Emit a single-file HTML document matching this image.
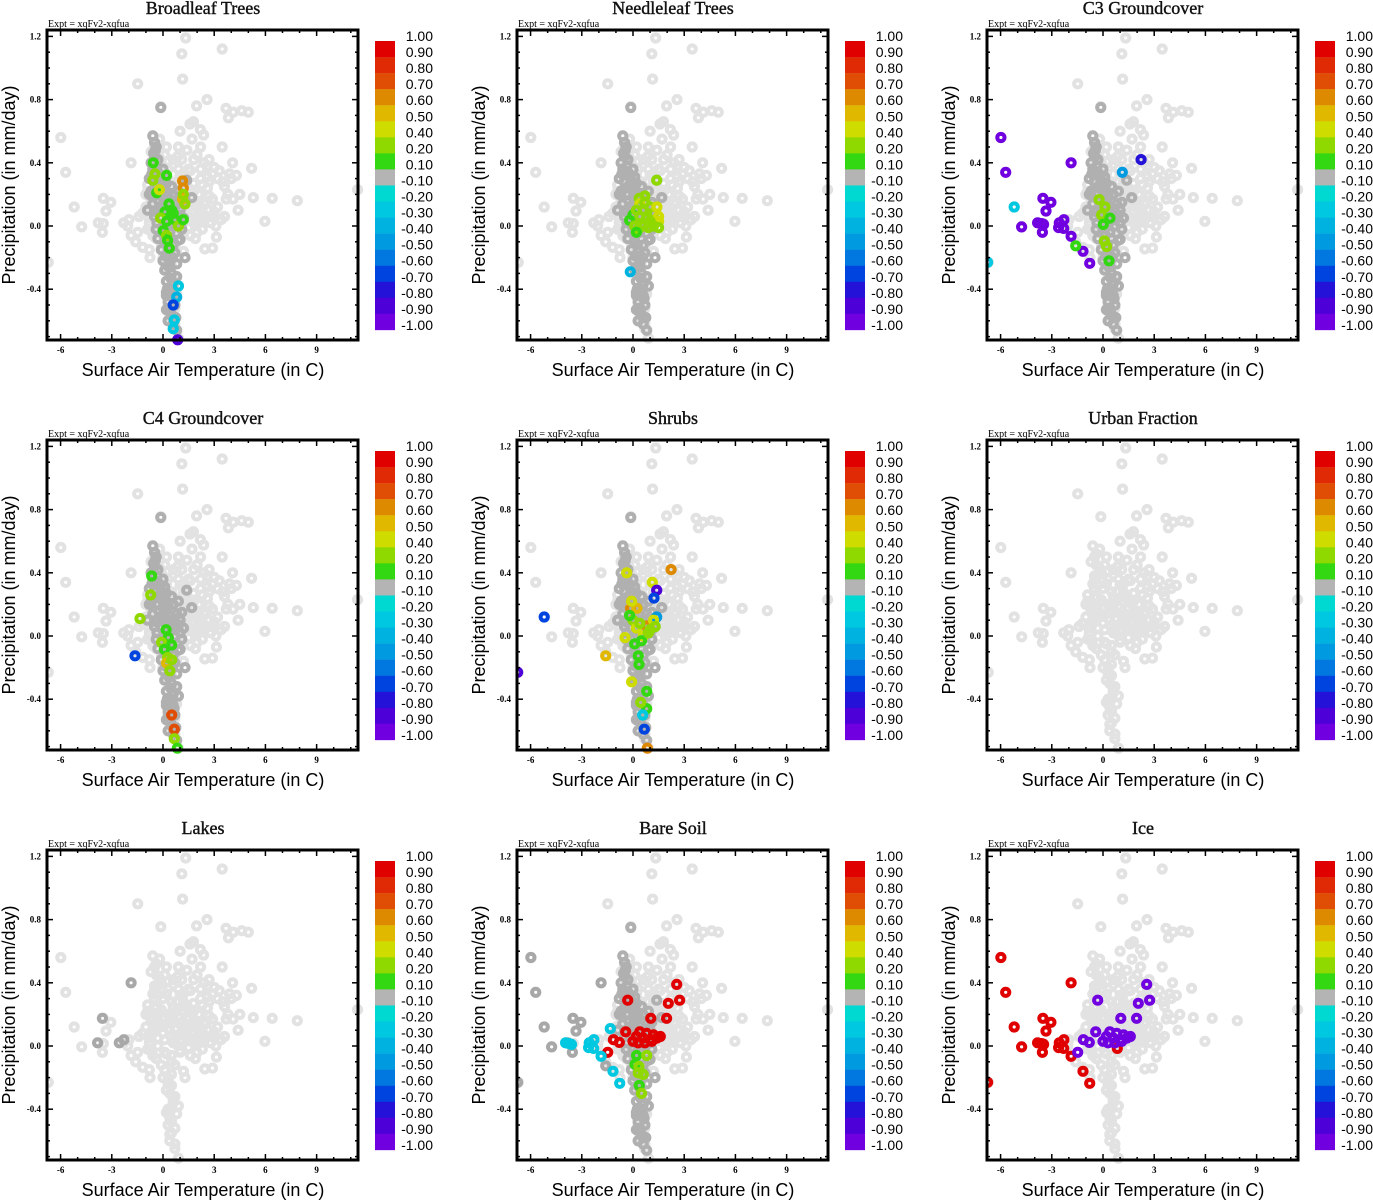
<!DOCTYPE html>
<html><head><meta charset="utf-8"><style>
html,body{margin:0;padding:0;background:#fff;}
svg{display:block;}
</style></head><body>
<svg id="chart" width="1373" height="1200" viewBox="0 0 1373 1200" xmlns="http://www.w3.org/2000/svg"></svg>
<script>
// ---- data ----
const panelTitles = ["Broadleaf Trees","Needleleaf Trees","C3 Groundcover","C4 Groundcover","Shrubs","Urban Fraction","Lakes","Bare Soil","Ice"];
const cbLabels = ["1.00","0.90","0.80","0.70","0.60","0.50","0.40","0.20","0.10","-0.10","-0.20","-0.30","-0.40","-0.50","-0.60","-0.70","-0.80","-0.90","-1.00"];
const cbColors = ["#e00000","#e02a06","#e04e06","#de8a00","#e0b800","#cedc00","#8fd800","#34d812","#b4b4b4","#00d8d2","#00c8e0","#00b2e0","#009ae0","#0078e0","#0044e0","#2412d8","#4e00d8","#7000e0"];
const cbLower = [0.9,0.8,0.7,0.6,0.5,0.4,0.2,0.1,-0.1,-0.2,-0.3,-0.4,-0.5,-0.6,-0.7,-0.8,-0.9,-1.0];
const xTicks = [-6,-3,0,3,6,9];
const yTicks = [1.2,0.8,0.4,0.0,-0.4];
const yTickLabels = ["1.2","0.8","0.4","0.0","-0.4"];

// light grey background cloud (temperature, precipitation)
const bgT = [1.33,3.47,1.1,1.15,-1.48,2.58,1.97,-0.13,3.69,4.61,5.0,4.12,3.83,1.78,1.58,1.0,2.19,2.38,-5.99,3.47,-5.7,0.86,-1.87,4.08,5.19,4.3,4.0,11.4,-3.5,-3.06,-5.2,5.29,6.4,7.87,3.7,4.1,-3.34,-3.79,-3.5,-2.0,-2.3,-2.07,-4.76,-3.55,5.97,-1.87,-1.48,-1.6,-1.19,-0.8,-0.76,2.45,2.9,3.13,1.2,-6.72,1.29,
 2.2,2.0,1.8,2.4,2.6,3.0,3.3,1.5,2.9,3.2,3.5,2.7,3.9,3.6,3.8,4.5,1.2,0.9,0.6,0.2,-0.2,-0.4,
 -1.0,-0.8,-0.7,-0.5,-0.4,-0.3,-0.2,0.0,0.0,0.2,0.3,0.4,0.5,0.6,0.7,0.8,0.9,1.0,1.0,1.2,1.3,1.4,1.5,1.6,1.7,1.8,1.9,2.0,2.1,2.2,2.3,2.4,2.5,2.6,2.7,2.8,2.9,3.0,3.1,3.2,3.4,1.1,1.6,0.5,-0.6,-0.9,-1.2,-0.3,0.1,0.7,1.9,2.2,1.4,2.7,-0.6,0.3,0.9,1.7,
 0.3,0.5,0.4,0.7,0.6,0.3,0.8,0.4,0.3,0.5,0.4,0.7,0.7,0.9,0.2,0.9,-0.1,0.0,-0.6,-0.5,-0.4,-1.4,-1.0,-0.9,3.6,4.4,2.0,1.1,
 -0.8,-0.6,-0.4,-0.2,0.1,0.3,0.6,0.8,1.1,1.3,1.5,1.8,2.0,2.3,2.5,2.8,3.0,-0.7,-0.3,0.0,0.4,0.7,1.0,1.4,1.7,2.1,2.4,2.7,-0.5,-0.1,0.2,0.6,0.9,1.2,1.6,1.9,2.2,2.6,-0.9,-0.5,-0.1,0.3,0.8,1.3,1.8,2.3,-0.4,0.1,0.5,1.0,1.5,2.0,0.1,0.5,0.3,0.6,0.2,0.5,0.4,0.7,-0.7,-0.5,-0.3,-0.5,-0.7,-0.2,1.0,1.3,1.7,2.0,2.4];
const bgP = [1.19,1.12,1.09,0.93,0.90,0.80,0.76,0.755,0.745,0.73,0.72,0.72,0.685,0.66,0.645,0.60,0.61,0.576,0.56,0.50,0.34,0.44,0.40,0.40,0.365,0.32,0.30,0.23,0.175,0.15,0.12,0.18,0.175,0.16,0.17,0.17,0.095,0.02,0.015,0.04,0.02,0.0,-0.005,-0.04,0.03,-0.06,-0.04,-0.10,-0.135,-0.15,-0.20,-0.145,-0.14,-0.07,-0.16,-0.23,-0.20,
 0.50,0.45,0.42,0.40,0.38,0.37,0.35,0.36,0.33,0.30,0.28,0.28,0.33,0.25,0.20,0.20,0.33,0.36,0.42,0.50,0.55,0.52,
 0.12,0.05,0.18,0.10,0.25,0.0,0.15,0.30,0.08,-0.05,0.20,0.10,0.28,0.02,0.15,0.22,0.07,0.32,-0.03,0.12,0.25,0.04,0.18,-0.06,0.09,0.27,0.13,0.02,0.20,0.08,-0.02,0.15,0.05,0.24,0.10,0.02,0.17,0.06,0.0,0.12,0.04,0.42,0.35,-0.10,-0.06,0.26,0.08,0.38,0.45,-0.12,-0.08,0.30,0.48,0.42,0.33,0.36,0.50,0.55,
 -0.20,-0.25,-0.30,-0.32,-0.36,-0.40,-0.43,-0.45,-0.50,-0.55,-0.60,-0.62,-0.65,-0.38,-0.28,-0.71,-0.12,-0.20,0.57,0.50,0.45,0.06,0.20,-0.02,0.06,0.10,0.12,0.22,
 0.02,0.08,0.14,0.21,0.04,0.11,0.17,0.01,0.09,0.14,0.06,0.02,0.11,0.05,0.14,0.06,0.09,-0.03,0.05,0.13,0.18,0.06,0.14,0.10,0.20,0.15,0.03,0.19,0.30,0.23,0.33,0.25,0.19,0.28,0.23,0.16,0.36,0.31,0.22,0.35,0.40,0.41,0.28,0.26,0.22,0.26,-0.08,-0.04,-0.06,-0.04,-0.01,-0.04,-0.15,-0.18,-0.24,-0.34,-0.42,-0.48,-0.56,-0.52,0.47,0.38,0.32,0.24,0.16,0.43,0.03,0.08,0.04,0.11,0.07];

// dark grey column (points with |corr|<0.1) shared by most panels
const coreT = [-0.6,-0.5,-0.45,-0.5,-0.3,-0.7,-0.6,-0.3,0.0,0.1,-0.8,-0.5,-0.2,0.2,0.5,-0.7,-0.3,0.0,0.3,0.6,0.9,-0.6,-0.2,0.1,0.4,0.8,1.1,-0.5,-0.1,0.2,0.5,0.9,1.2,-0.4,0.0,0.3,0.7,1.1,-0.3,0.1,0.5,0.9,-0.1,0.3,0.7,0.0,0.4,0.8,0.1,0.5,0.8,0.2,0.6,0.9,0.2,0.6,0.3,0.7,0.2,0.5,0.3,0.6,0.8,-0.13,1.29,1.0,1.39,1.68,-0.9,-0.8,0.2,0.4,0.6,0.0,0.3,
 -0.4,-0.55,-0.35,-0.65,-0.15,-0.45,0.05,-0.25,0.35,0.65,1.0,-0.35,0.15,0.7,1.0,0.1,0.4,0.6,0.25,0.45,0.15,0.55,0.35,0.45,0.25,0.55,0.4,0.65,0.75,-0.05,-0.4,0.0];
const coreP = [0.57,0.53,0.48,0.44,0.42,0.40,0.36,0.34,0.36,0.31,0.30,0.28,0.26,0.27,0.25,0.22,0.20,0.22,0.19,0.20,0.22,0.14,0.12,0.15,0.13,0.14,0.15,0.06,0.05,0.08,0.06,0.07,0.05,-0.02,-0.02,0.0,0.0,-0.02,-0.08,-0.10,-0.08,-0.09,-0.15,-0.16,-0.17,-0.22,-0.23,-0.24,-0.28,-0.30,-0.32,-0.35,-0.37,-0.38,-0.42,-0.44,-0.48,-0.50,-0.53,-0.56,-0.60,-0.62,-0.66,0.75,-0.20,-0.085,0.29,0.18,0.10,0.20,-0.44,-0.52,-0.58,0.18,0.03,
 0.50,0.46,0.38,0.33,0.32,0.24,0.25,0.16,0.10,0.11,0.10,0.02,0.02,0.04,0.02,-0.05,-0.04,-0.12,-0.12,-0.19,-0.19,-0.20,-0.26,-0.33,-0.40,-0.40,-0.52,-0.46,-0.58,0.28,0.09,0.12];
const useCore = [true,true,true,true,true,false,false,true,false];

// extra dark grey points per panel
const extraT = [[],[],[],[],[],[],[-1.87,-3.55,-3.83,-2.56,-2.29],[-5.98,-5.7,-5.2,-4.77,-3.52,-3.05,-3.34,-3.55,-1.87,-1.6,-6.76,-3.83,-2.56,-2.29],[]];
const extraP = [[],[],[],[],[],[],[0.40,0.175,0.02,0.02,0.04],[0.56,0.34,0.12,-0.006,0.175,0.15,0.095,-0.04,0.40,-0.125,-0.23,0.02,0.02,0.04],[]];

// coloured (correlation) points per panel
const colT = [
 [-0.57,-0.47,-0.6,-0.37,-0.21,0.21,1.15,1.19,1.15,1.19,1.29,0.35,0.12,0.51,-0.14,0.21,0.7,0.9,1.19,0.02,0.21,0.27,0.37,0.6,0.9,0.8,0.6,0.66,0.6,0.86],
 [1.39,0.37,0.7,0.4,-0.2,0.0,0.2,0.4,0.6,0.8,1.0,1.2,1.4,1.5,1.5,0.1,0.3,0.6,0.9,1.2,1.5,0.7,1.0,0.2,-0.16],
 [-5.98,-5.7,-3.52,-3.05,-3.34,-4.77,-3.83,-3.6,-3.48,-3.55,-2.56,-2.29,-2.6,-2.3,-1.87,-1.87,-1.17,-0.78,-5.2,-6.76,1.13,2.23,-1.6,-0.23,0.12,-0.08,0.41,0.02,0.08,0.21,0.35],
 [-1.64,-0.66,-0.72,-1.35,0.18,0.31,-0.08,0.08,0.51,0.27,0.21,0.51,0.4,0.51,0.66,0.66,0.84],
 [-5.2,-6.76,-0.37,1.13,2.23,1.39,1.23,-1.6,-0.47,-0.14,0.23,0.8,-0.08,0.31,0.35,-0.08,0.8,0.8,0.45,0.57,0.66,0.84,1.39,0.0,0.2,0.4,0.6,1.0,1.2,0.1,0.5,0.9,1.3,-0.2],
 [],
 [],
 [-0.31,2.07,2.56,2.73,1.04,1.97,-0.43,-1.15,-0.8,-1.48,0.0,0.2,0.4,0.6,0.8,1.0,1.2,1.4,1.6,0.3,0.7,1.1,-3.95,-3.75,-3.6,-2.56,-2.29,-2.6,-2.3,-1.87,-1.33,-1.17,-0.78,0.21,0.8,0.12,0.35,0.31,0.6,0.37,0.5],
 [-5.98,-5.7,-3.52,-3.05,-3.34,-4.77,-3.83,-3.6,-3.48,-3.55,-2.56,-2.29,-2.6,-2.3,-1.87,-1.87,-1.17,-0.78,-5.2,-6.76,0.84,-0.31,2.07,2.56,2.73,1.04,1.97,-0.43,-1.15,-1.48,-0.8,0.0,0.2,0.4,0.6,0.8,1.0,1.2,1.4,1.6,0.3,0.7,1.1]
];
const colP = [
 [0.40,0.33,0.29,0.21,0.23,0.32,0.285,0.24,0.17,0.2,0.14,0.14,0.09,0.10,0.05,0.03,0.04,0.0,0.04,-0.03,-0.06,-0.09,-0.14,0.08,-0.38,-0.45,-0.5,-0.595,-0.65,-0.72],
 [0.29,0.175,0.19,0.14,0.036,0.07,0.1,0.06,0.1,0.05,0.12,0.08,0.12,0.06,0.03,0.0,-0.02,0.0,-0.01,0.0,-0.01,0.15,0.03,-0.04,-0.29],
 [0.56,0.34,0.175,0.15,0.095,-0.006,0.02,0.015,0.01,-0.04,0.02,0.04,-0.01,-0.015,-0.065,0.40,-0.16,-0.236,0.12,-0.23,0.34,0.42,-0.125,0.167,0.12,0.07,0.05,0.01,-0.095,-0.13,-0.22],
 [-0.125,0.38,0.26,0.11,0.04,-0.01,-0.04,-0.085,-0.057,-0.137,-0.17,-0.15,-0.22,-0.5,-0.59,-0.65,-0.71],
 [0.12,-0.23,0.40,0.34,0.42,0.29,0.24,-0.125,-0.01,0.175,0.175,0.063,0.22,-0.125,-0.18,-0.29,-0.35,-0.46,-0.42,-0.5,-0.59,-0.71,0.12,0.1,0.05,0.08,0.0,0.04,0.1,-0.05,-0.03,0.02,0.06,0.13],
 [],
 [],
 [0.29,0.27,0.39,0.29,0.175,0.175,0.09,0.04,0.023,-0.04,0.03,0.06,0.09,0.05,0.08,0.04,0.07,0.05,0.06,0.02,0.02,0.03,0.02,0.015,0.01,0.02,0.04,-0.01,-0.015,-0.065,0.11,-0.16,-0.236,-0.06,-0.06,-0.116,-0.13,-0.17,-0.18,-0.25,-0.3],
 [0.56,0.34,0.175,0.15,0.095,-0.006,0.02,0.015,0.01,-0.04,0.02,0.04,-0.01,-0.015,-0.065,0.40,-0.16,-0.236,0.12,-0.23,-0.015,0.29,0.27,0.39,0.29,0.175,0.175,0.09,0.04,-0.04,0.023,0.03,0.06,0.09,0.05,0.08,0.04,0.07,0.05,0.06,0.02,0.02,0.03]
];
const colV = [
 [0.15,0.3,0.3,0.15,0.45,0.15,0.65,0.65,0.55,0.3,0.3,0.15,0.15,0.15,0.3,0.15,0.15,0.3,0.15,0.15,0.3,0.15,0.15,0.15,-0.25,-0.35,-0.65,-0.3,-0.25,-0.85],
 [0.3,0.3,0.3,0.45,0.15,0.15,0.3,0.3,0.3,0.3,0.3,0.3,0.45,0.45,0.45,0.3,0.3,0.3,0.3,0.3,0.3,0.3,0.3,0.15,-0.35],
 [-0.95,-0.95,-0.95,-0.95,-0.95,-0.95,-0.95,-0.95,-0.95,-0.95,-0.95,-0.95,-0.95,-0.95,-0.95,-0.95,-0.95,-0.95,-0.25,-0.3,-0.45,-0.75,0.15,0.3,0.3,0.3,0.15,0.15,0.3,0.3,0.15],
 [-0.65,0.15,0.3,0.3,0.15,0.15,0.3,0.15,0.15,0.3,0.55,0.3,0.3,0.75,0.75,0.3,0.15],
 [-0.65,-0.85,0.45,0.45,0.65,-0.85,-0.65,0.55,0.45,0.65,0.55,0.65,0.45,0.15,0.15,0.45,0.15,0.15,0.3,-0.25,-0.65,0.65,-0.45,0.3,0.45,0.3,0.45,0.3,0.45,0.15,0.15,0.3,0.3,0.15],
 [],
 [],
 [0.95,0.95,0.95,0.95,0.95,0.95,0.95,0.95,0.95,0.95,0.95,0.95,0.95,0.95,0.95,0.95,0.95,0.95,0.95,0.95,0.95,0.95,-0.25,-0.25,-0.25,-0.25,-0.25,-0.25,-0.25,-0.25,-0.25,-0.25,-0.25,0.15,0.3,0.15,0.3,0.3,0.3,0.15,0.3],
 [0.95,0.95,0.95,0.95,0.95,0.95,0.95,0.95,0.95,0.95,0.95,0.95,0.95,0.95,0.95,0.95,0.95,0.95,0.95,0.95,0.95,-0.95,-0.95,-0.95,-0.95,-0.95,-0.95,-0.95,-0.95,-0.95,-0.95,-0.95,-0.95,-0.95,-0.95,-0.95,-0.95,-0.95,-0.95,-0.95,-0.95,-0.95,-0.95]
];

// ---- drawing ----
const NS = "http://www.w3.org/2000/svg";
const svg = document.getElementById("chart");
const colOff = [0,470,940], rowOff = [0,410,820];
const FX0 = 47, FX1 = 358, FY0 = 30, FY1 = 340;
function sx(t){ return 163 + 17.07*t; }
function sy(p){ return 226 - 158*p; }
function colorFor(v){
  for (let i=0;i<cbLower.length;i++){ if (v >= cbLower[i]) return cbColors[i]; }
  return cbColors[cbColors.length-1];
}
function mk(tag, attrs, parent){
  const e = document.createElementNS(NS, tag);
  for (const k in attrs) e.setAttribute(k, attrs[k]);
  parent.appendChild(e);
  return e;
}
function ring(g, t, p, col){
  return mk("circle", {cx:sx(t).toFixed(1), cy:sy(p).toFixed(1), r:3.6, fill:"none", stroke:col, "stroke-width":4.0}, g);
}

for (let k=0;k<9;k++){
  const ox = colOff[k%3], oy = rowOff[Math.floor(k/3)];
  const g = mk("g", {transform:`translate(${ox},${oy})`}, svg);
  
  

  const title = mk("text", {x:203, y:14, "text-anchor":"middle", "font-family":"Liberation Serif, serif", "font-size":18, "stroke":"#111", "stroke-width":0.4, fill:"#111"}, g);
  title.textContent = panelTitles[k];
  
  

  const ex = mk("text", {x:48, y:27, "font-family":"Liberation Serif, serif", "font-size":10, fill:"#000"}, g);
  ex.textContent = "Expt = xqFv2-xqfua";
  
  

  const clip = mk("clipPath", {id:"clip"+k}, g);
  mk("rect", {x:FX0, y:FY0-6, width:FX1-FX0+6, height:FY1-FY0+12}, clip);
  const pts = mk("g", {"clip-path":`url(#clip${k})`}, g);
  
  

  for (let i=0;i<bgT.length;i++){
    const c = ring(pts, bgT[i], bgP[i], "#e2e2e2");
    
    
  }
  if (useCore[k]){
    for (let i=0;i<coreT.length;i++){
      const c = ring(pts, coreT[i], coreP[i], "#b0b0b0");
      
      
    }
  }
  for (let i=0;i<extraT[k].length;i++){
    const c = ring(pts, extraT[k][i], extraP[k][i], "#a8a8a8");
    
    
  }
  for (let i=0;i<colT[k].length;i++){
    const c = ring(pts, colT[k][i], colP[k][i], colorFor(colV[k][i]));
    
    
  }

  const fr = mk("rect", {x:FX0, y:FY0, width:FX1-FX0, height:FY1-FY0, fill:"none", stroke:"#000", "stroke-width":3}, g);
  
  

  const tk = mk("g", {stroke:"#000", "stroke-width":1.5}, g);
  
  
  for (let t=-6;t<=11;t++){
    const x = sx(t), L = (t%3===0)?6:3;
    mk("line", {x1:x, y1:FY1, x2:x, y2:FY1-L}, tk);
    mk("line", {x1:x, y1:FY0, x2:x, y2:FY0+L}, tk);
  }
  for (let i=-7;i<=12;i++){
    const p = i/10, y = sy(p), L = (i%4===0)?6:3;
    mk("line", {x1:FX0, y1:y, x2:FX0+L, y2:y}, tk);
    mk("line", {x1:FX1, y1:y, x2:FX1-L, y2:y}, tk);
  }
  for (let i=0;i<xTicks.length;i++){
    const tl = mk("text", {x:sx(xTicks[i]), y:353, "text-anchor":"middle", "font-family":"Liberation Serif, serif", "font-size":9, "font-weight":"bold"}, g);
    tl.textContent = String(xTicks[i]);
    
    
  }
  for (let i=0;i<yTicks.length;i++){
    const tl = mk("text", {x:41, y:sy(yTicks[i])+3, "text-anchor":"end", "font-family":"Liberation Serif, serif", "font-size":9, "font-weight":"bold"}, g);
    tl.textContent = yTickLabels[i];
    
    
  }
  const xt = mk("text", {x:203, y:376, "text-anchor":"middle", "font-family":"Liberation Sans, sans-serif", "font-size":18}, g);
  xt.textContent = "Surface Air Temperature (in C)";
  
  
  const yt = mk("text", {x:0, y:0, transform:"translate(15,185) rotate(-90)", "text-anchor":"middle", "font-family":"Liberation Sans, sans-serif", "font-size":18}, g);
  yt.textContent = "Precipitation (in mm/day)";
  
  

  const cb = mk("g", {}, g);
  
  
  for (let i=0;i<cbColors.length;i++){
    const r = mk("rect", {x:375, y:41+i*16.05, width:20, height:16.3, fill:cbColors[i]}, cb);
    
    
  }
  for (let i=0;i<cbLabels.length;i++){
    const tl = mk("text", {x:433, y:41+i*16.05, "text-anchor":"end", "font-family":"Liberation Sans, sans-serif", "font-size":14}, cb);
    tl.textContent = cbLabels[i];
    
    
  }
}
</script>
</body></html>
